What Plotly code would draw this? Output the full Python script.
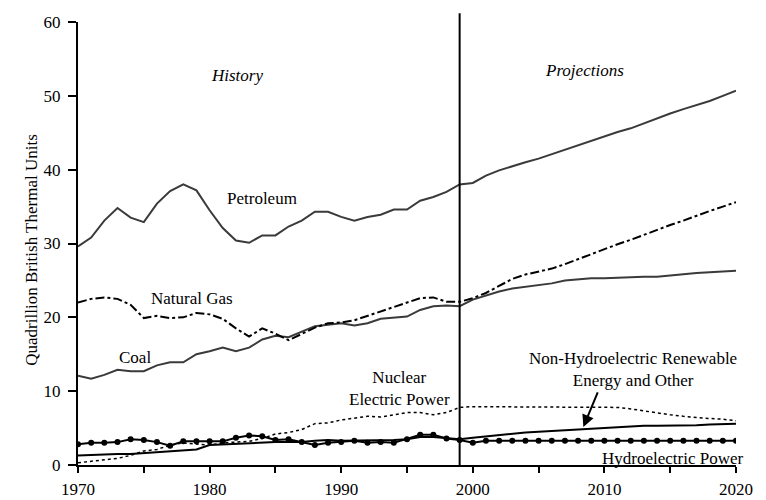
import plotly.graph_objects as go

years = list(range(1970, 2021))

petroleum = [29.6, 30.8, 33.1, 34.8, 33.5, 32.9, 35.4, 37.1, 38.0, 37.2,
             34.5, 32.1, 30.4, 30.1, 31.1, 31.1, 32.3, 33.1, 34.3, 34.3,
             33.6, 33.1, 33.6, 33.9, 34.6, 34.6, 35.8, 36.3, 37.0, 38.0,
             38.2, 39.2, 39.9, 40.5, 41.0, 41.5, 42.1, 42.8, 43.4, 44.0,
             44.6, 45.1, 45.6, 46.3, 47.0, 47.6, 48.2, 48.7, 49.3, 50.0, 50.7]

natural_gas = [22.0, 22.5, 22.7, 22.5, 21.7, 19.9, 20.2, 19.9, 20.0, 20.6,
               20.4, 19.8, 18.5, 17.4, 18.5, 17.8, 16.9, 17.7, 18.6, 19.2,
               19.3, 19.6, 20.2, 20.8, 21.3, 22.0, 22.6, 22.7, 22.1, 22.1,
               22.6, 23.3, 24.2, 25.2, 25.8, 26.2, 26.6, 27.2, 27.9, 28.6,
               29.3, 29.9, 30.5, 31.2, 31.8, 32.5, 33.1, 33.8, 34.4, 35.0, 35.6]

coal = [12.1, 11.7, 12.2, 12.9, 12.7, 12.7, 13.5, 13.9, 13.9, 15.0,
        15.4, 15.9, 15.4, 15.9, 17.0, 17.5, 17.3, 18.0, 18.8, 19.0,
        19.2, 18.9, 19.2, 19.8, 20.0, 20.1, 21.0, 21.5, 21.6, 21.5,
        22.4, 23.0, 23.5, 23.9, 24.1, 24.3, 24.6, 25.0, 25.2, 25.3,
        25.3, 25.4, 25.4, 25.5, 25.5, 25.7, 25.8, 26.0, 26.1, 26.2, 26.3]

nuclear = [0.3, 0.5, 0.7, 0.9, 1.3, 1.9, 2.1, 2.7, 3.0, 2.8,
           2.7, 3.0, 3.1, 3.2, 3.6, 4.2, 4.4, 4.8, 5.6, 5.7,
           6.1, 6.4, 6.6, 6.5, 6.8, 7.1, 7.1, 6.8, 7.1, 7.8,
           7.9, 7.9, 7.9, 7.9, 7.9, 7.9, 7.9, 7.9, 7.9, 7.9,
           7.9, 7.8, 7.6, 7.3, 7.0, 6.8, 6.6, 6.4, 6.3, 6.2, 6.0]

hydro = [2.8, 3.0, 3.0, 3.1, 3.5, 3.4, 3.1, 2.6, 3.2, 3.2,
         3.2, 3.2, 3.7, 4.0, 3.9, 3.4, 3.5, 3.1, 2.7, 3.0,
         3.1, 3.3, 3.0, 3.1, 3.0, 3.5, 4.1, 4.1, 3.6, 3.4,
         3.0, 3.3, 3.3, 3.3, 3.3, 3.3, 3.3, 3.3, 3.3, 3.3,
         3.3, 3.3, 3.3, 3.3, 3.3, 3.3, 3.3, 3.3, 3.3, 3.3, 3.3]

renewable = [1.3, 1.4, 1.5, 1.5, 1.5, 1.6, 1.7, 1.9, 2.0, 2.1,
             2.7, 2.8, 2.8, 3.0, 3.1, 3.1, 3.1, 3.1, 3.3, 3.4,
             3.3, 3.3, 3.3, 3.3, 3.4, 3.5, 3.8, 3.8, 3.6, 3.5,
             3.7, 3.9, 4.1, 4.3, 4.4, 4.5, 4.6, 4.7, 4.9, 5.0,
             5.1, 5.2, 5.3, 5.3, 5.3, 5.3, 5.4, 5.4, 5.5, 5.5, 5.6]

x_tickvals = list(range(1970, 2021, 5))
x_ticktext = [str(v) if v % 10 == 0 else "" for v in x_tickvals]
y_tickvals = [0, 10, 20, 30, 40, 50, 60]

SERIF = "Times New Roman, Liberation Serif, serif"

fig = go.Figure()
fig.add_trace(go.Scatter(x=years, y=nuclear, mode="lines",
                         line=dict(color="black", width=1.5, dash="dot")))
fig.add_trace(go.Scatter(x=years, y=renewable, mode="lines",
                         line=dict(color="black", width=2)))
fig.add_trace(go.Scatter(x=years, y=hydro, mode="lines+markers",
                         line=dict(color="black", width=2),
                         marker=dict(symbol="circle", size=6, color="black")))
fig.add_trace(go.Scatter(x=years, y=coal, mode="lines",
                         line=dict(color="#3a3a3a", width=2)))
fig.add_trace(go.Scatter(x=years, y=natural_gas, mode="lines",
                         line=dict(color="black", width=2, dash="dashdot")))
fig.add_trace(go.Scatter(x=years, y=petroleum, mode="lines",
                         line=dict(color="#3a3a3a", width=2)))

fig.add_shape(type="line", xref="x", yref="paper", x0=1999, x1=1999, y0=0, y1=1.02,
              line=dict(color="black", width=2))

ann_font = dict(family=SERIF, size=17, color="black")
annotations = [
    dict(x=1982.1, y=52.7, text="<i>History</i>"),
    dict(x=2008.5, y=53.4, text="<i>Projections</i>"),
    dict(x=1984.0, y=36.1, text="Petroleum"),
    dict(x=1978.7, y=22.6, text="Natural Gas"),
    dict(x=1974.3, y=14.6, text="Coal"),
    dict(x=1994.4, y=10.3, text="Nuclear<br>Electric Power"),
    dict(x=2012.2, y=13.0, text="Non-Hydroelectric Renewable<br>Energy and Other"),
]
for a in annotations:
    fig.add_annotation(x=a["x"], y=a["y"], text=a["text"], showarrow=False,
                       xanchor="center", font=ann_font)

fig.add_annotation(x=2020, y=0.9, xshift=9, text="Hydroelectric Power",
                   showarrow=False, xanchor="right", font=ann_font)

fig.add_annotation(x=2008.4, y=5.15, ax=15, ay=-36, text="", showarrow=True,
                   arrowhead=2, arrowsize=1.2, arrowwidth=2, arrowcolor="black")

# y-axis title placed as rotated paper annotation
fig.add_annotation(xref="paper", yref="paper", x=-0.088, y=0.485,
                   text="Quadrillion British Thermal Units", textangle=-90,
                   showarrow=False, font=dict(family=SERIF, size=17, color="black"))

fig.update_layout(
    width=758, height=492,
    margin=dict(l=70, r=30, t=14, b=35),
    paper_bgcolor="white", plot_bgcolor="white",
    showlegend=False,
    font=dict(family=SERIF, size=17, color="black"),
    xaxis=dict(range=[1970, 2020], tickvals=x_tickvals, ticktext=x_ticktext,
               automargin=False,
               showgrid=False, zeroline=False, showline=True, linecolor="black",
               linewidth=2, ticks="outside", ticklen=6, tickwidth=2, tickcolor="black",
               ticklabelstandoff=2,
               tickfont=dict(family=SERIF, size=17)),
    yaxis=dict(range=[0, 60], tickvals=y_tickvals, showgrid=False, zeroline=False,
               automargin=False,
               showline=True, linecolor="black", linewidth=2, ticks="outside",
               ticklen=8, tickwidth=2, tickcolor="black",
               ticklabelstandoff=4,
               tickfont=dict(family=SERIF, size=17)),
)

fig.write_html("out.html")
